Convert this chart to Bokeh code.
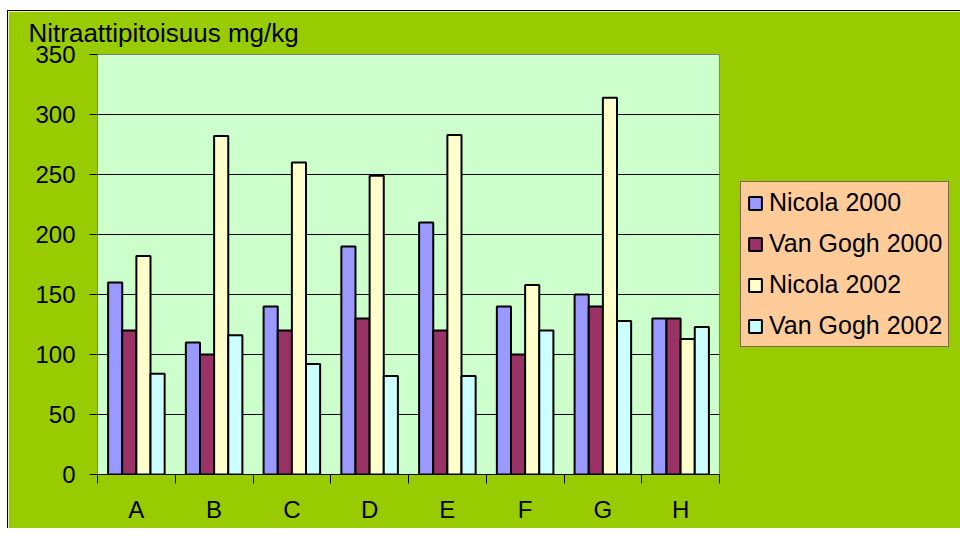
from bokeh.plotting import figure
from bokeh.models import ColumnDataSource, FixedTicker, Legend, LegendItem, Range1d, Spacer
from bokeh.layouts import row, column
from bokeh.embed import file_html
from bokeh.resources import INLINE

categories = ["A", "B", "C", "D", "E", "F", "G", "H"]
series_names = ["Nicola 2000", "Van Gogh 2000", "Nicola 2002", "Van Gogh 2002"]
nicola_2000 = [160, 110, 140, 190, 210, 140, 150, 130]
van_gogh_2000 = [120, 100, 120, 130, 120, 100, 140, 130]
nicola_2002 = [182, 282, 260, 249, 283, 158, 314, 113]
van_gogh_2002 = [84, 116, 92, 82, 82, 120, 128, 123]
y_ticks = [0, 50, 100, 150, 200, 250, 300, 350]
colors = ["#9999FF", "#993366", "#FFFFCC", "#CCFFFF"]

FONT = "Liberation Sans"
BAR_W = 1 / 5.5

centers = [i + 0.5 for i in range(len(categories))]

p = figure(frame_width=621, frame_height=419, output_backend="svg", toolbar_location=None,
           x_range=Range1d(0, len(categories)), y_range=Range1d(0, 350),
           min_border_left=89, min_border_right=226, min_border_top=43, min_border_bottom=55)

p.background_fill_color = "#CCFFCC"
p.border_fill_color = "#99CC00"
p.outline_line_color = "#808080"
p.outline_line_width = 1

series = [nicola_2000, van_gogh_2000, nicola_2002, van_gogh_2002]
items = []
for k, (name, vals, col) in enumerate(zip(series_names, series, colors)):
    off = (k - 1.5) * BAR_W
    src = ColumnDataSource(dict(x=[c + off for c in centers], top=vals))
    r = p.vbar(x="x", top="top", bottom=0, width=BAR_W, source=src,
               fill_color=col, line_color="black", line_width=2)
    items.append(LegendItem(label=name, renderers=[r]))

p.xgrid.grid_line_color = None
p.ygrid.ticker = FixedTicker(ticks=y_ticks)
p.ygrid.grid_line_color = "black"
p.ygrid.grid_line_width = 1

p.yaxis.ticker = FixedTicker(ticks=y_ticks)
p.yaxis.axis_line_color = "#808080"
p.yaxis.major_tick_out = 8
p.yaxis.major_tick_in = 0
p.yaxis.minor_tick_line_color = None
p.yaxis.major_label_text_font = FONT
p.yaxis.major_label_text_font_size = "24px"
p.yaxis.major_label_text_color = "black"
p.yaxis.major_label_standoff = 14

p.xaxis.ticker = FixedTicker(ticks=centers, minor_ticks=list(range(len(categories) + 1)))
p.xaxis.major_label_overrides = {c: lab for c, lab in zip(centers, categories)}
p.xaxis.major_tick_line_color = None
p.xaxis.minor_tick_out = 9
p.xaxis.minor_tick_in = 0
p.xaxis.minor_tick_line_color = "black"
p.xaxis.axis_line_color = "black"
p.xaxis.major_label_text_font = FONT
p.xaxis.major_label_text_font_size = "24px"
p.xaxis.major_label_text_color = "black"
p.xaxis.major_label_standoff = 12

p.title.text = "Nitraattipitoisuus mg/kg"
p.title.text_font = FONT
p.title.text_font_size = "26px"
p.title.text_font_style = "normal"
p.title.text_color = "black"
p.title.align = "left"
p.title.vertical_align = "top"
p.title.offset = -69
p.title.standoff = 10

legend = Legend(items=items, location="center_left", orientation="vertical")
legend.background_fill_color = "#FFCC99"
legend.background_fill_alpha = 1
legend.border_line_color = "black"
legend.border_line_width = 1
legend.label_text_font = FONT
legend.label_text_font_size = "25px"
legend.label_text_color = "black"
legend.glyph_width = 16
legend.glyph_height = 16
legend.label_height = 26
legend.label_standoff = 6
legend.spacing = 12
legend.padding = 6
legend.margin = 21
p.add_layout(legend, "right")

p.styles = {"border-left": "1px solid black", "border-top": "1px solid black"}

layout = row(Spacer(width=7), column(Spacer(height=10), p))

open("out.html", "w").write(file_html(layout, INLINE))
